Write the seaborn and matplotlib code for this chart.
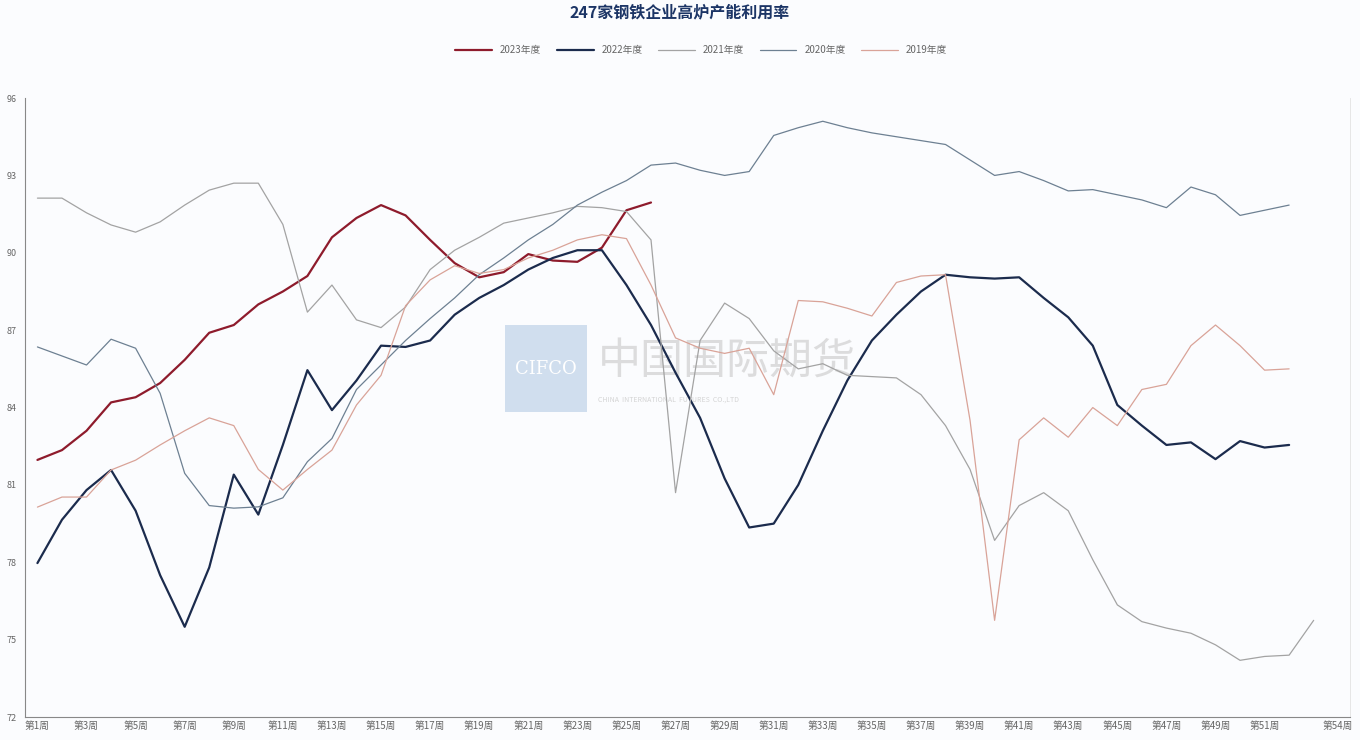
import matplotlib.pyplot as plt
import numpy as np
import pandas as pd
import seaborn as sns
from matplotlib.patches import Rectangle

# weekly blast-furnace utilisation (%)
y2023 = [81.97, 82.35, 83.1, 84.2, 84.4, 84.95, 85.85, 86.9, 87.2, 88.0,
         88.5, 89.1, 90.6, 91.35, 91.85, 91.45, 90.5, 89.6, 89.05, 89.25,
         89.95, 89.7, 89.65, 90.2, 91.65, 91.95]
y2022 = [77.97, 79.65, 80.8, 81.58, 80.0, 77.5, 75.5, 77.8, 81.4, 79.85,
         82.55, 85.45, 83.9, 85.05, 86.4, 86.35, 86.6, 87.6, 88.25, 88.75,
         89.35, 89.8, 90.1, 90.1, 88.75, 87.2, 85.35, 83.6, 81.25, 79.35,
         79.5, 81.0, 83.1, 85.05, 86.6, 87.6, 88.5, 89.15, 89.05, 89.0,
         89.05, 88.25, 87.5, 86.4, 84.1, 83.3, 82.55, 82.65, 82.0, 82.7,
         82.45, 82.55]
y2021 = [92.12, 92.12, 91.55, 91.08, 90.8, 91.2, 91.85, 92.43, 92.7, 92.7,
         91.1, 87.7, 88.75, 87.4, 87.1, 87.9, 89.35, 90.1, 90.6, 91.15,
         91.35, 91.55, 91.8, 91.75, 91.6, 90.5, 80.7, 86.6, 88.05, 87.45,
         86.2, 85.5, 85.7, 85.25, 85.2, 85.15, 84.5, 83.3, 81.6, 78.85,
         80.2, 80.7, 80.0, 78.1, 76.35, 75.7, 75.45, 75.25, 74.8, 74.2,
         74.35, 74.4, 75.75]
y2020 = [86.35, 86.0, 85.65, 86.65, 86.3, 84.55, 81.45, 80.2, 80.1, 80.15,
         80.5, 81.9, 82.8, 84.7, 85.65, 86.6, 87.45, 88.25, 89.15, 89.8,
         90.5, 91.1, 91.85, 92.35, 92.8, 93.4, 93.48, 93.2, 93.0, 93.15,
         94.55, 94.85, 95.1, 94.85, 94.65, 94.5, 94.35, 94.2, 93.6, 93.0,
         93.15, 92.8, 92.4, 92.45, 92.25, 92.05, 91.75, 92.55, 92.25, 91.45,
         91.65, 91.85]
y2019 = [80.14, 80.53, 80.53, 81.58, 81.96, 82.55, 83.1, 83.6, 83.3, 81.6,
         80.8, 81.6, 82.35, 84.1, 85.25, 87.95, 88.95, 89.5, 89.2, 89.35,
         89.8, 90.1, 90.5, 90.7, 90.55, 88.75, 86.7, 86.3, 86.1, 86.3,
         84.5, 88.15, 88.1, 87.85, 87.55, 88.85, 89.1, 89.15, 83.5, 75.75,
         82.75, 83.6, 82.85, 84.0, 83.3, 84.7, 84.9, 86.4, 87.2, 86.4,
         85.45, 85.5]

labels = ["2023年度", "2022年度", "2021年度", "2020年度", "2019年度"]
series = [y2023, y2022, y2021, y2020, y2019]
colors = ["#8e1b2c", "#1b2b4d", "#a3a3a3", "#6d8092", "#d9a398"]
widths = [1.6, 1.6, 0.9, 0.9, 0.9]

label_weeks = list(range(1, 52, 2)) + [54]
y_ticks = list(range(72, 97, 3))

sns.set_theme(style="white")
plt.rcParams["font.family"] = ["Noto Sans CJK SC", "DejaVu Sans"]

fig = plt.figure(figsize=(13.6, 7.4), dpi=100)
fig.patch.set_facecolor("#fbfcfe")
ax = fig.add_axes([0.0185, 0.031, 0.9745, 0.8365])
ax.set_facecolor("#fbfcfe")

# watermark
ax.add_patch(Rectangle((0.362, 0.493), 0.062, 0.141, transform=ax.transAxes,
                       facecolor="#c9d9ec", edgecolor="none", alpha=0.85, zorder=0))
ax.text(0.393, 0.563, "CIFCO", transform=ax.transAxes, ha="center", va="center",
        fontsize=13, color="white", family="DejaVu Serif", zorder=0.5)
ax.text(0.432, 0.575, "中国国际期货", transform=ax.transAxes, ha="left", va="center",
        fontsize=31, color="#c8c8c8", alpha=0.6, zorder=0.5)
ax.text(0.432, 0.513, "CHINA  INTERNATIONAL  FUTURES  CO.,LTD", transform=ax.transAxes,
        ha="left", va="center", fontsize=5, color="#d4d4d4", zorder=0.5)

for lab, vals, c, lw in zip(labels, series, colors, widths):
    df = pd.DataFrame({"week": np.arange(1, len(vals) + 1), "rate": vals})
    sns.lineplot(data=df, x="week", y="rate", ax=ax, color=c, lw=lw,
                 label=lab, zorder=3)

ax.set_xlim(0.5, 54.5)
ax.set_ylim(72, 96)
ax.set_xlabel("")
ax.set_ylabel("")

ax.set_xticks(np.arange(0.5, 55, 2))
ax.set_xticklabels([])
ax.set_xticks(label_weeks, minor=True)
ax.set_xticklabels([f"第{w}周" for w in label_weeks], minor=True)
ax.tick_params(axis="x", which="major", length=4, color="#888888", direction="out")
ax.tick_params(axis="x", which="minor", length=0, labelsize=7, colors="#666666", pad=3)
ax.set_yticks(y_ticks)
ax.set_yticklabels([str(v) for v in y_ticks])
ax.tick_params(axis="y", length=4, labelsize=6.5, colors="#666666", pad=2)
ax.tick_params(axis="y", color="#888888")

ax.spines["top"].set_visible(False)
ax.spines["right"].set_color("#e2e2e2")
ax.spines["right"].set_linewidth(0.6)
for side in ["left", "bottom"]:
    ax.spines[side].set_color("#888888")
    ax.spines[side].set_linewidth(0.8)

ax.legend(loc="center", bbox_to_anchor=(0.51, 1.077), ncol=5, frameon=False,
          fontsize=7, handlelength=3.8, columnspacing=1.6, labelcolor="#666666")

fig.text(0.5, 0.983, "247家钢铁企业高炉产能利用率", ha="center", va="center",
         fontsize=11.5, fontweight="bold", color="#1c3566")

fig.savefig("out.png", dpi=100, facecolor=fig.get_facecolor())
